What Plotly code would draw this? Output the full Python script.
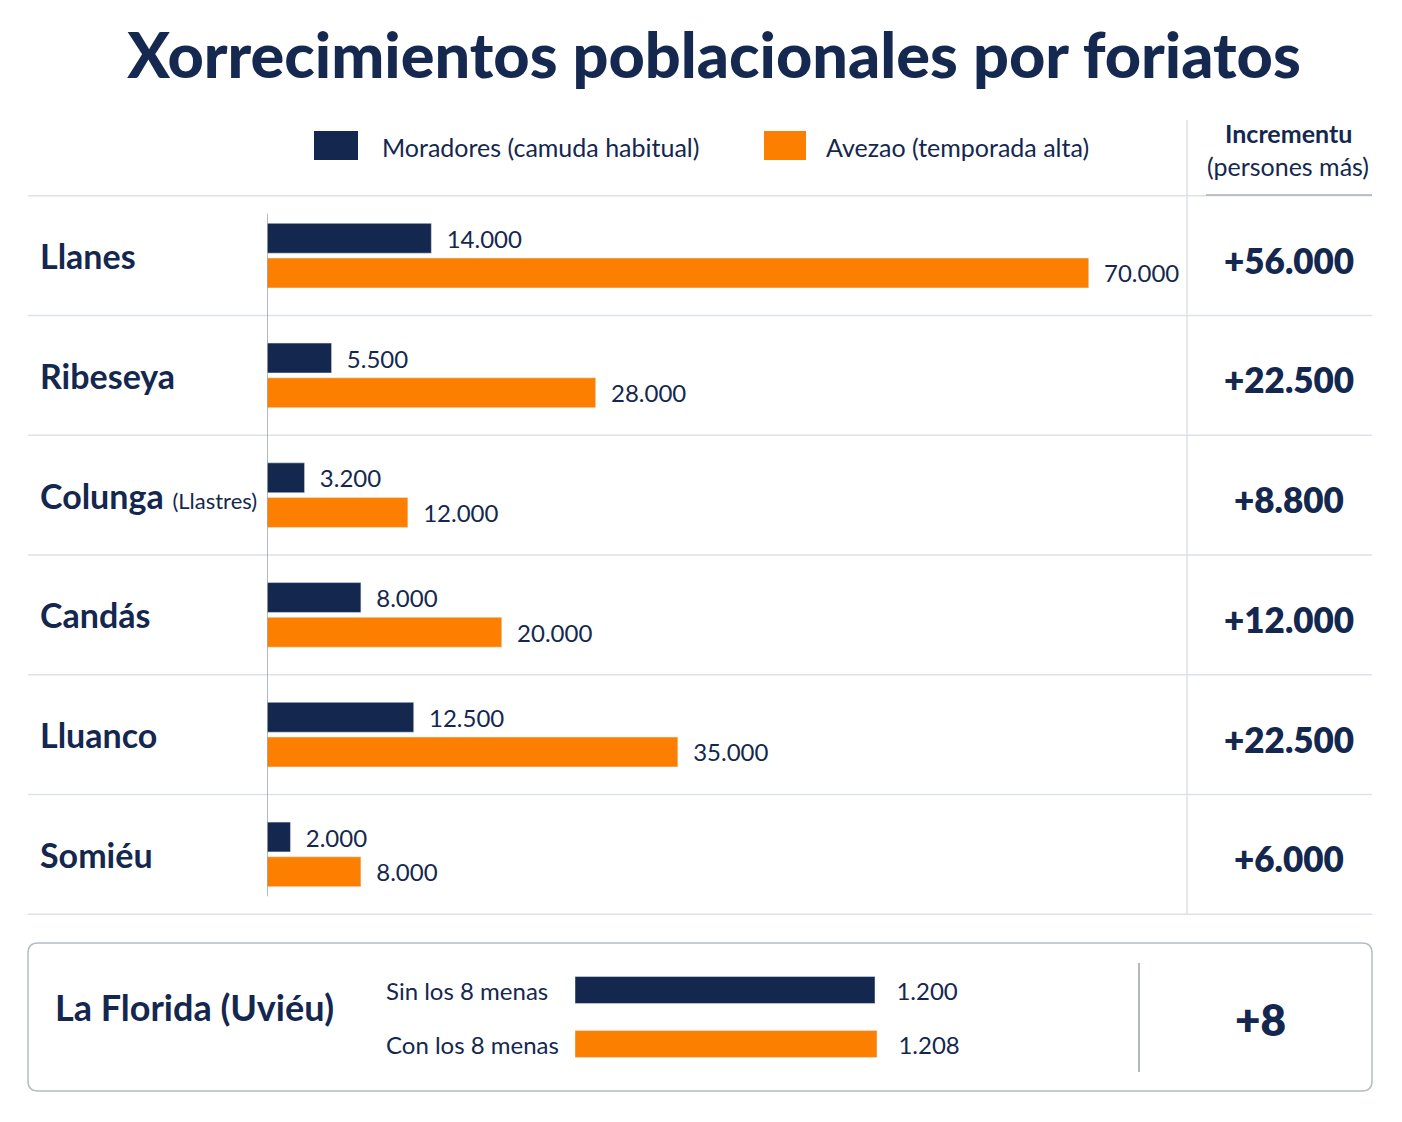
import plotly.graph_objects as go

# Datos
lugares = ["Llanes", "Ribeseya", "Colunga", "Candás", "Lluanco", "Somiéu"]
etiquetes = ["<b>Llanes</b>", "<b>Ribeseya</b>",
             "<b>Colunga</b> <span style='font-size:22px'>(Llastres)</span>",
             "<b>Candás</b>", "<b>Lluanco</b>", "<b>Somiéu</b>"]
moradores = [14000, 5500, 3200, 8000, 12500, 2000]
avezao = [70000, 28000, 12000, 20000, 35000, 8000]

florida_cats = ["Sin los 8 menas", "Con los 8 menas"]
florida_vals = [1200, 1208]

NAVY = "#14284f"
ORANGE = "#fd7f00"
GRIS = "#dde1e8"
FUENTE = "Lato, Roboto, sans-serif"

W, H = 1402, 1122
OFF = 8  # marxe del body del html


def px(x):
    return (x - OFF) / W


def py(y):
    return 1 - (y - OFF) / H


def num(v):
    return f"{v:,}".replace(",", ".")


fig = go.Figure()

fig.add_trace(go.Bar(
    y=lugares, x=moradores, orientation="h",
    name="Moradores (camuda habitual)",
    marker=dict(color=NAVY),
    texttemplate="  %{x:,}", textposition="outside",
    textfont=dict(size=24, color=NAVY, family=FUENTE),
    cliponaxis=False, constraintext="none", showlegend=False,
))
fig.add_trace(go.Bar(
    y=lugares, x=avezao, orientation="h",
    name="Avezao (temporada alta)",
    marker=dict(color=ORANGE),
    texttemplate="  %{x:,}", textposition="outside",
    textfont=dict(size=24, color=NAVY, family=FUENTE),
    cliponaxis=False, constraintext="none", showlegend=False,
))

# La Florida
fig.add_trace(go.Bar(
    y=florida_cats, x=florida_vals, orientation="h",
    marker=dict(color=[NAVY, ORANGE]),
    texttemplate="   %{x:,}", textposition="outside",
    textfont=dict(size=24, color=NAVY, family=FUENTE),
    cliponaxis=False, constraintext="none", showlegend=False,
    xaxis="x2", yaxis="y2",
))

shapes = []
annotations = []

# separadores de files
for i in range(len(lugares) + 1):
    shapes.append(dict(type="line", xref="paper", yref="y",
                       x0=px(28), x1=px(1372), y0=i - 0.5, y1=i - 0.5,
                       line=dict(color=GRIS, width=1.5)))
shapes.append(dict(type="line", xref="paper", yref="paper",
                   x0=px(1206), x1=px(1372), y0=py(195), y1=py(195),
                   line=dict(color="#b9bfcb", width=2)))
# columna del incrementu
shapes.append(dict(type="line", xref="paper", yref="paper",
                   x0=px(1187), x1=px(1187), y0=py(120), y1=py(915),
                   line=dict(color=GRIS, width=1.5)))
# eje vertical
shapes.append(dict(type="line", xref="x", yref="y",
                   x0=0, x1=0, y0=-0.35, y1=5.35,
                   line=dict(color="#9aa1ae", width=1.5)))

# lleenda
shapes.append(dict(type="rect", xref="paper", yref="paper",
                   x0=px(314), x1=px(358), y0=py(160), y1=py(131),
                   fillcolor=NAVY, line=dict(width=0)))
shapes.append(dict(type="rect", xref="paper", yref="paper",
                   x0=px(764), x1=px(806), y0=py(160), y1=py(131),
                   fillcolor=ORANGE, line=dict(width=0)))
annotations.append(dict(text="Moradores (camuda habitual)", xref="paper", yref="paper",
                        x=px(380), y=py(147), xanchor="left", yanchor="middle",
                        showarrow=False, font=dict(size=25, color=NAVY)))
annotations.append(dict(text="Avezao (temporada alta)", xref="paper", yref="paper",
                        x=px(824), y=py(147), xanchor="left", yanchor="middle",
                        showarrow=False, font=dict(size=25, color=NAVY)))

# cabecera incrementu
annotations.append(dict(text="<b>Incrementu</b>", xref="paper", yref="paper",
                        x=px(1288), y=py(133), xanchor="center", yanchor="middle",
                        showarrow=False, font=dict(size=25, color=NAVY)))
annotations.append(dict(text="(persones más)", xref="paper", yref="paper",
                        x=px(1288), y=py(166), xanchor="center", yanchor="middle",
                        showarrow=False, font=dict(size=25, color=NAVY)))

# nomes y incrementos
for i, (lab, m, a) in enumerate(zip(etiquetes, moradores, avezao)):
    annotations.append(dict(text=lab, xref="paper", yref="y",
                            x=px(38), y=i, xanchor="left", yanchor="middle",
                            showarrow=False, font=dict(size=34, color=NAVY)))
    annotations.append(dict(text=f"+{num(a - m)}", xref="paper", yref="y",
                            x=px(1289), y=i, yshift=-4, xanchor="center", yanchor="middle",
                            showarrow=False, font=dict(size=35, color=NAVY, weight=800)))

# caxa de La Florida
x0, x1, y0, y1, r = px(28), px(1372), py(1091), py(943), 10
rx, ry = r / W, r / H
caxa = (f"M {x0 + rx} {y1} L {x1 - rx} {y1} Q {x1} {y1} {x1} {y1 - ry} "
        f"L {x1} {y0 + ry} Q {x1} {y0} {x1 - rx} {y0} "
        f"L {x0 + rx} {y0} Q {x0} {y0} {x0} {y0 + ry} "
        f"L {x0} {y1 - ry} Q {x0} {y1} {x0 + rx} {y1} Z")
shapes.append(dict(type="path", xref="paper", yref="paper", path=caxa,
                   line=dict(color="#b4bac6", width=1.5), layer="below"))
shapes.append(dict(type="line", xref="paper", yref="paper",
                   x0=px(1139), x1=px(1139), y0=py(963), y1=py(1072),
                   line=dict(color="#9aa1ae", width=1.5)))
annotations.append(dict(text="<b>La Florida (Uviéu)</b>", xref="paper", yref="paper",
                        x=px(53), y=py(1007), xanchor="left", yanchor="middle",
                        showarrow=False, font=dict(size=36, color=NAVY)))
for cat in florida_cats:
    annotations.append(dict(text=cat, xref="paper", yref="y2",
                            x=px(384), y=cat, xanchor="left", yanchor="middle",
                            showarrow=False, font=dict(size=24, color=NAVY)))
annotations.append(dict(text=f"+{num(florida_vals[1] - florida_vals[0])}",
                        xref="paper", yref="paper",
                        x=px(1260), y=py(1019), xanchor="center", yanchor="middle",
                        showarrow=False, font=dict(size=44, color=NAVY, weight=800)))

fig.update_layout(
    width=W, height=H,
    margin=dict(l=0, r=0, t=0, b=0),
    paper_bgcolor="white", plot_bgcolor="white",
    font=dict(family=FUENTE, color=NAVY),
    separators=",.",
    barmode="group", bargap=0.42, bargroupgap=0.14,
    title=dict(text="Xorrecimientos poblacionales por foriatos",
               x=px(714), xanchor="center", y=py(56), yanchor="middle",
               font=dict(size=63, color="#15284f", family=FUENTE, weight=900)),
    xaxis=dict(domain=[px(267), px(1185)], range=[0, 78200],
               visible=False, fixedrange=True),
    yaxis=dict(domain=[py(915), py(195)], autorange="reversed",
               visible=False, fixedrange=True),
    xaxis2=dict(domain=[px(575), px(1100)], range=[0, 2100], anchor="y2",
                visible=False, fixedrange=True),
    yaxis2=dict(domain=[py(1071), py(963)], autorange="reversed", anchor="x2",
                visible=False, fixedrange=True),
    shapes=shapes,
    annotations=annotations,
)

fig.write_html("out.html")
